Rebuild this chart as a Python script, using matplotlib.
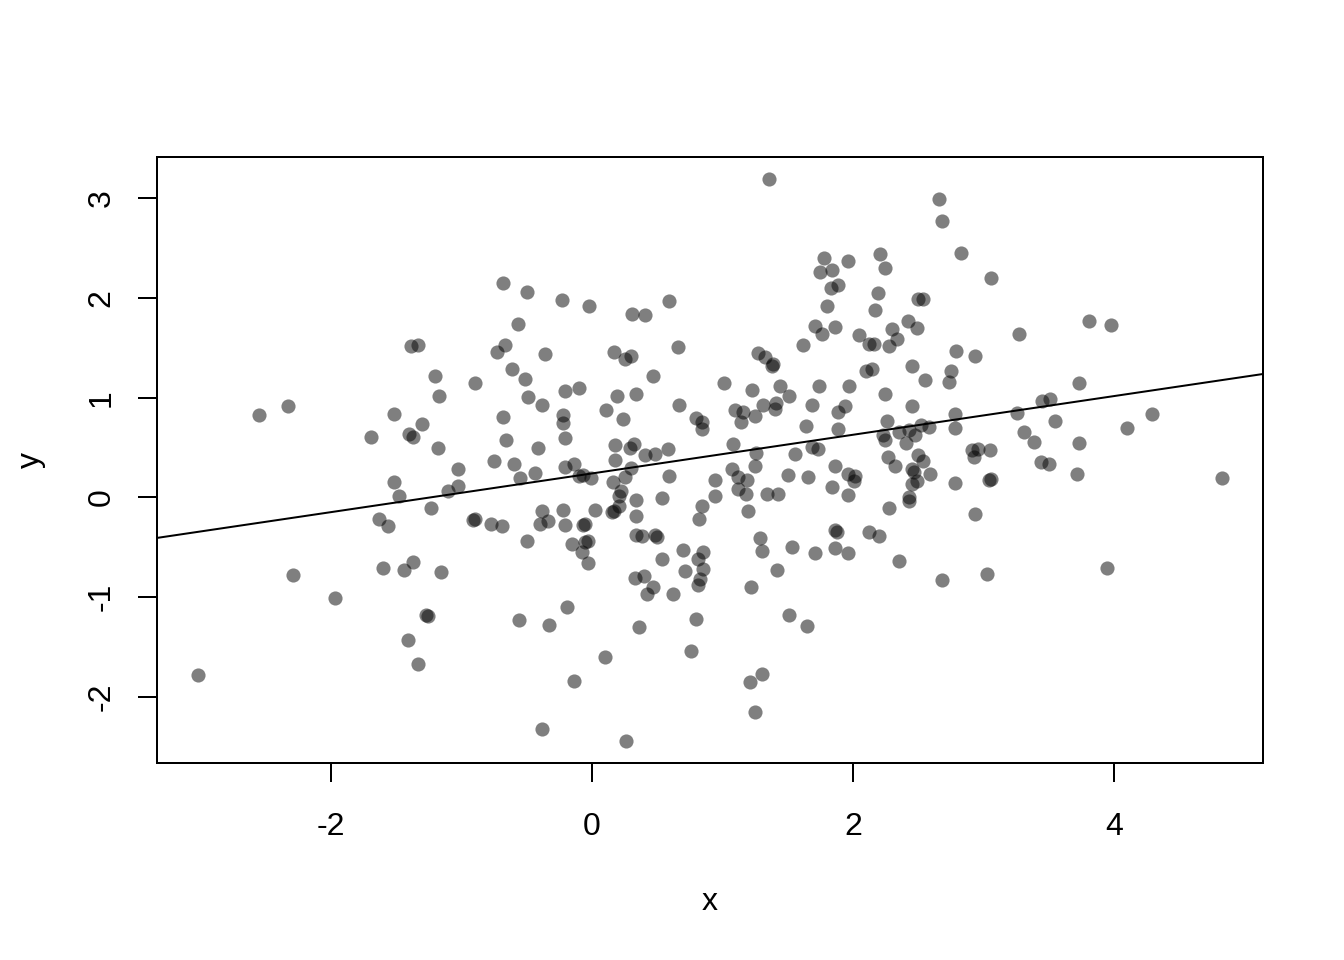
import numpy as np
import matplotlib
matplotlib.use("Agg")
from matplotlib import pyplot as plt

plt.rcParams['font.family'] = ['Liberation Sans', 'DejaVu Sans']
plt.rcParams['axes.unicode_minus'] = False

# points, left to right by region
x = [-1.39, -1.33, -1.20, -1.17, -2.55, -2.33, -1.52, -1.30, -1.69, -1.40,
     -1.37, -1.18, -1.52, -1.48, -1.10, -1.23, -1.63, -1.56, -1.60, -1.44,
     -1.37, -1.16, -2.29, -1.97, -1.27, -1.26, -1.41, -1.33, -3.02,
     -0.68, -0.50, -0.23, -0.02, 0.31, 0.41, 0.59, -0.57, -0.67, -0.73,
     -0.36, 0.17, 0.25, 0.30, 0.66, -0.90, -0.61, -0.51, -0.21, -0.10,
     -0.49, -0.38, 0.19, 0.34, 0.47, 0.11, 0.24, 0.67, 0.80, 0.84,
     0.84, -0.68, -0.22, -0.22, -0.21, -0.66, -0.41, 0.18, 0.29, 0.32,
     0.41, 0.48, 0.58, -1.03, -0.75, -0.60, -0.44, -0.55, -0.21, -0.14,
     -0.10, -0.07, -0.01, 0.18, 0.30, 0.25, 0.16, 0.22, 0.21, 0.34,
     0.59, 0.54, 0.94, 0.94, 0.84, -1.03,
     -0.91, -0.90, -0.77, -0.69, -0.38, -0.22, -0.40, -0.34, -0.21, -0.07,
     -0.05, 0.02, 0.17, 0.21, 0.15, -0.50, -0.15, -0.05, -0.03, -0.08,
     -0.03, 0.34, 0.34, 0.38, 0.48, 0.50, 0.82, 0.70, 0.54, 0.81,
     0.85, 0.71, 0.85, 0.83, 0.81, 0.33, 0.40, 0.47, 0.42, 0.62,
     -0.19, -0.56, -0.33, 0.36, 0.80, 0.10, 0.76, -0.14, -0.38, 0.26,
     1.36, 2.66, 2.68, 2.83, 3.06, 1.78, 1.96, 1.75, 1.84, 2.21,
     2.25, 1.83, 1.89, 1.80, 2.19, 2.17, 2.50, 2.54, 1.71, 1.76,
     1.86, 1.62, 2.05, 2.12, 2.16, 2.28, 2.30, 2.34, 2.42, 2.49,
     2.79, 2.94, 1.27, 1.33, 1.38, 1.39, 2.10, 2.15, 2.45, 2.55,
     2.75, 2.74, 1.01, 1.23, 1.44, 1.51, 1.74, 1.97, 2.25, 1.10,
     1.16, 1.14, 1.25, 1.31, 1.41, 1.40, 1.69, 1.89, 1.94, 2.45,
     2.78, 2.78, 1.64, 1.89, 2.26, 2.23, 2.25, 2.35, 2.43, 2.48,
     2.52, 2.58, 2.41, 1.08, 1.26, 1.69, 1.73, 1.56, 2.91, 2.96,
     2.93, 3.05, 1.25, 1.07, 1.12, 1.19, 1.50, 1.66, 1.86, 1.96,
     2.02, 2.01, 2.27, 2.32, 2.50, 2.54, 2.45, 2.47, 2.59, 2.49,
     2.45, 2.78, 3.04, 3.06, 1.12, 1.18, 1.34, 1.43, 1.84, 1.96, 2.43,
     1.20, 2.28, 2.43, 2.94, 1.29, 1.30, 1.53, 1.71, 1.86, 1.88,
     1.86, 1.96, 2.12, 2.20, 2.35, 1.42, 1.22, 2.68, 3.03, 1.51,
     1.65, 1.30, 1.21, 1.25,
     3.27, 3.81, 3.98, 3.73, 3.45, 3.51, 3.26, 3.55, 4.29, 4.10,
     3.31, 3.39, 3.73, 3.44, 3.50, 3.72, 4.83, 3.95]

y = [1.52, 1.53, 1.22, 1.02, 0.83, 0.92, 0.84, 0.74, 0.61, 0.64,
     0.61, 0.50, 0.15, 0.01, 0.06, -0.11, -0.22, -0.29, -0.71, -0.73,
     -0.65, -0.75, -0.78, -1.01, -1.18, -1.19, -1.43, -1.67, -1.78,
     2.15, 2.06, 1.98, 1.92, 1.84, 1.83, 1.97, 1.74, 1.53, 1.46,
     1.44, 1.46, 1.39, 1.42, 1.51, 1.15, 1.29, 1.19, 1.07, 1.10,
     1.01, 0.93, 1.02, 1.04, 1.22, 0.88, 0.79, 0.93, 0.80, 0.76,
     0.69, 0.81, 0.83, 0.75, 0.60, 0.58, 0.50, 0.53, 0.50, 0.54,
     0.43, 0.44, 0.49, 0.28, 0.36, 0.33, 0.24, 0.19, 0.30, 0.33,
     0.21, 0.22, 0.19, 0.37, 0.29, 0.20, 0.15, 0.06, 0.01, -0.03,
     0.21, -0.01, 0.17, 0.01, -0.09, 0.11,
     -0.23, -0.22, -0.27, -0.29, -0.14, -0.13, -0.27, -0.24, -0.28, -0.28,
     -0.27, -0.13, -0.14, -0.09, -0.15, -0.44, -0.47, -0.45, -0.44, -0.55,
     -0.66, -0.19, -0.38, -0.39, -0.38, -0.40, -0.22, -0.53, -0.62, -0.62,
     -0.55, -0.74, -0.72, -0.82, -0.88, -0.81, -0.79, -0.90, -0.97, -0.97,
     -1.10, -1.23, -1.28, -1.30, -1.22, -1.60, -1.54, -1.84, -2.32, -2.44,
     3.19, 2.99, 2.77, 2.45, 2.20, 2.40, 2.37, 2.26, 2.28, 2.44,
     2.30, 2.10, 2.13, 1.92, 2.05, 1.88, 1.99, 1.99, 1.72, 1.64,
     1.71, 1.53, 1.63, 1.54, 1.54, 1.52, 1.69, 1.59, 1.77, 1.70,
     1.47, 1.42, 1.45, 1.41, 1.32, 1.34, 1.27, 1.29, 1.32, 1.18,
     1.27, 1.16, 1.15, 1.08, 1.12, 1.02, 1.12, 1.12, 1.04, 0.88,
     0.86, 0.76, 0.82, 0.93, 0.95, 0.89, 0.93, 0.86, 0.92, 0.92,
     0.84, 0.70, 0.72, 0.69, 0.77, 0.63, 0.58, 0.66, 0.68, 0.63,
     0.73, 0.71, 0.55, 0.54, 0.45, 0.51, 0.49, 0.44, 0.48, 0.49,
     0.41, 0.48, 0.31, 0.28, 0.20, 0.17, 0.22, 0.20, 0.31, 0.23,
     0.21, 0.16, 0.41, 0.31, 0.43, 0.36, 0.28, 0.25, 0.23, 0.16,
     0.13, 0.14, 0.17, 0.18, 0.08, 0.03, 0.03, 0.03, 0.10, 0.02, 0.00,
     -0.14, -0.11, -0.04, -0.17, -0.41, -0.54, -0.50, -0.56, -0.33, -0.35,
     -0.51, -0.56, -0.35, -0.39, -0.64, -0.73, -0.90, -0.83, -0.77, -1.18,
     -1.29, -1.77, -1.85, -2.15,
     1.64, 1.77, 1.73, 1.15, 0.97, 0.99, 0.85, 0.77, 0.84, 0.70,
     0.66, 0.56, 0.55, 0.35, 0.33, 0.23, 0.19, -0.71]

# fitted line
intercept = 0.24
slope = 0.194

xticks = [-2, 0, 2, 4]
yticks = [-2, -1, 0, 1, 2, 3]

fig = plt.figure(figsize=(7, 5), dpi=192)
ax = fig.add_axes([157/1344, 1 - 763/960, (1263-157)/1344, (763-157)/960])

ax.plot(x, y, 'o', color='black', alpha=0.5, markersize=5.3,
        markeredgewidth=0, linestyle='none')
ax.axline((0, intercept), slope=slope, color='black', linewidth=0.75)

# R style 4% padding
xr = max(x) - min(x)
yr = max(y) - min(y)
ax.set_xlim(min(x) - 0.04*xr, max(x) + 0.04*xr)
ax.set_ylim(min(y) - 0.04*yr, max(y) + 0.04*yr)

ax.set_xticks(xticks)
ax.set_yticks(yticks)
ax.set_xticklabels([str(t) for t in xticks])
ax.set_yticklabels([str(t) for t in yticks], rotation=90, va='center')
ax.tick_params(direction='out', length=7.2, width=0.75, labelsize=12)
ax.tick_params(axis='x', pad=11)
ax.tick_params(axis='y', pad=8)
for s in ax.spines.values():
    s.set_linewidth(0.75)

ax.set_xlabel('x', fontsize=12, labelpad=17)
ax.set_ylabel('y', fontsize=12, labelpad=15)

fig.savefig('out.png', dpi=192)
